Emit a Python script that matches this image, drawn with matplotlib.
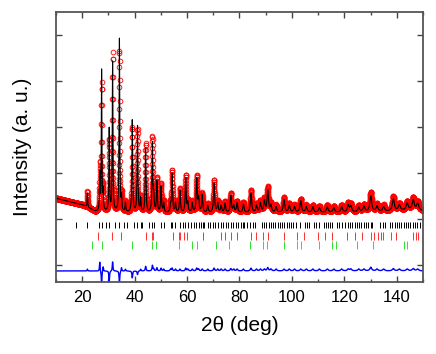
import numpy as np
import matplotlib
matplotlib.use('Agg')
import matplotlib.pyplot as plt
from matplotlib.ticker import MultipleLocator

plt.rcParams['font.family'] = ['Liberation Sans', 'DejaVu Sans']

# background knots (2theta, intensity)
bg_x = [10, 15, 20, 22, 25, 28, 35, 45, 60, 80, 100, 120, 135, 145, 150]
bg_y = [1.45, 1.38, 1.31, 1.26, 1.16, 1.16, 1.14, 1.13, 1.13, 1.13, 1.14, 1.14, 1.16, 1.19, 1.18]

# reflections in the profile: position, calculated and observed height above background
pk_pos = [22.0, 26.7, 27.4, 28.0, 30.3, 31.6, 34.2, 35.0, 36.5, 39.1, 41.1, 42.3, 44.2, 46.8,
          47.3, 48.5, 50.1, 51.1, 53.7, 54.3, 55.6, 57.3, 59.5, 60.3, 62.0, 63.7, 64.4, 65.8,
          67.9, 70.3, 71.7, 73.0, 74.5, 76.7, 77.8, 79.1, 81.5, 84.4, 86.5, 88.0, 89.5, 90.8,
          92.0, 94.0, 97.0, 99.0, 101.0, 103.4, 105.5, 108.0, 110.5, 113.5, 116.0, 119.0,
          121.5, 122.5, 125.5, 127.5, 130.1, 132.5, 135.0, 138.7, 141.0, 144.0, 146.3, 148.0]
pk_calc = [0.30, 0.80, 3.05, 0.40, 1.80, 3.25, 3.78, 0.30, 0.20, 2.00, 1.88, 0.30, 1.40, 1.50,
           0.30, 0.67, 0.56, 0.20, 0.15, 0.84, 0.20, 0.48, 0.74, 0.20, 0.20, 0.72, 0.30, 0.38,
           0.15, 0.64, 0.20, 0.15, 0.20, 0.37, 0.15, 0.21, 0.18, 0.42, 0.15, 0.20, 0.25, 0.47,
           0.15, 0.12, 0.28, 0.15, 0.12, 0.25, 0.12, 0.12, 0.10, 0.12, 0.10, 0.12,
           0.15, 0.13, 0.10, 0.12, 0.34, 0.12, 0.10, 0.26, 0.12, 0.15, 0.22, 0.15]
pk_obs = [0.34, 1.00, 2.75, 0.50, 1.55, 3.45, 3.50, 0.38, 0.24, 1.85, 1.80, 0.34, 1.50, 1.62,
          0.34, 0.74, 0.62, 0.24, 0.19, 0.90, 0.24, 0.52, 0.80, 0.24, 0.24, 0.78, 0.34, 0.42,
          0.19, 0.70, 0.24, 0.19, 0.24, 0.42, 0.19, 0.25, 0.22, 0.48, 0.19, 0.24, 0.29, 0.54,
          0.19, 0.16, 0.32, 0.19, 0.16, 0.29, 0.16, 0.16, 0.14, 0.16, 0.14, 0.16,
          0.19, 0.17, 0.14, 0.16, 0.42, 0.16, 0.14, 0.31, 0.16, 0.19, 0.27, 0.19]

# Bragg reflection markers for the three phases
ticks_1 = [17.8, 22.0, 26.5, 27.7, 29.0, 30.3, 32.5, 34.1, 35.8, 37.2, 39.8, 41.0, 42.3, 42.9,
           45.4, 46.7, 47.3, 49.9, 51.1, 53.7, 54.3, 55.6, 57.5, 58.5, 59.4, 60.3, 61.5, 62.8,
           63.6, 64.4, 65.3, 66.0, 66.6, 67.9, 68.7, 69.8, 70.6, 71.7, 72.9, 73.6, 74.8, 75.6,
           76.7, 77.5, 78.6, 79.5, 80.5, 81.3, 81.8, 83.0, 84.1, 85.2, 86.0, 88.6, 89.4, 90.3,
           91.1, 92.0, 92.8, 93.7, 94.6, 95.4, 96.3, 97.1, 98.0, 98.8, 99.7, 100.6, 101.4,
           103.0, 105.2, 105.9, 106.5, 108.4, 109.3, 110.3, 112.2, 113.0, 113.8, 114.6, 115.3,
           117.2, 118.1, 119.1, 120.4, 121.3, 122.2, 123.0, 123.9, 124.8, 125.6, 126.5, 127.4,
           128.2, 129.1, 130.0, 130.5, 133.7, 134.6, 135.6, 137.5, 138.3, 139.2, 140.0, 140.9,
           141.8, 142.6, 143.5, 144.4, 145.2, 146.1, 147.0, 147.8, 148.7]
ticks_2 = [26.2, 31.3, 34.7, 44.2, 46.5, 47.1, 54.6, 56.8, 57.4, 58.9, 60.1, 66.2, 72.8, 74.3,
           76.6, 78.9, 84.4, 86.5, 89.0, 90.8, 96.9, 101.9, 104.6, 109.9, 112.8, 115.2, 121.0,
           124.2, 126.7, 130.2, 131.4, 132.7, 133.9, 134.8, 137.9, 139.6, 146.3, 147.2, 148.2]
ticks_3 = [23.7, 27.5, 39.1, 46.7, 48.2, 56.8, 62.0, 63.9, 70.9, 75.9, 83.9, 89.0, 90.6, 97.0,
           101.8, 103.5, 110.3, 115.3, 117.0, 124.8, 130.8, 142.9, 143.8]

tt = np.arange(10, 150.001, 0.03)
bg = np.interp(tt, bg_x, bg_y)


def profile(heights):
    y = bg.copy()
    for p, h in zip(pk_pos, heights):
        w = 0.05 + 0.0028 * p
        y += h / (1 + ((tt - p) / w) ** 2)
    return y


ycalc = profile(pk_calc)
yobs = profile(pk_obs)
ydiff = yobs - ycalc - 0.13

fig = plt.figure(figsize=(4.36, 3.54), dpi=100)
ax = fig.add_axes([0.1284, 0.2034, 0.8416, 0.7626])

ax.plot(tt, yobs, 'o', mfc='none', mec='red', ms=3.4, mew=0.6)
ax.plot(tt, ycalc, color='black', lw=0.8)
ax.plot(tt, ydiff, color='blue', lw=1.0)
ax.plot(ticks_1, [0.87] * len(ticks_1), '|', color='black', ms=5, mew=0.7)
ax.plot(ticks_2, [0.63] * len(ticks_2), '|', color='#ff3030', ms=5.5, mew=0.7)
ax.plot(ticks_3, [0.43] * len(ticks_3), '|', color='#30e030', ms=5.5, mew=0.7)

ax.set_xlim(10, 150)
ax.set_ylim(-0.37, 5.5)
ax.xaxis.set_major_locator(MultipleLocator(20))
ax.xaxis.set_minor_locator(MultipleLocator(10))
ax.yaxis.set_major_locator(MultipleLocator(1))
ax.set_yticklabels([])
ax.tick_params(which='both', direction='in', top=True, right=True, color='#444444')
ax.tick_params(which='major', length=4, width=1)
ax.tick_params(which='minor', length=2.5, width=1)
ax.tick_params(axis='x', labelsize=12, pad=6)
for s in ax.spines.values():
    s.set_color('#555555'); s.set_linewidth(1.3)

ax.set_xlabel('2θ (deg)', fontsize=15, labelpad=8)
ax.set_ylabel('Intensity (a. u.)', fontsize=15, labelpad=14)

fig.savefig('out.png', dpi=100)
